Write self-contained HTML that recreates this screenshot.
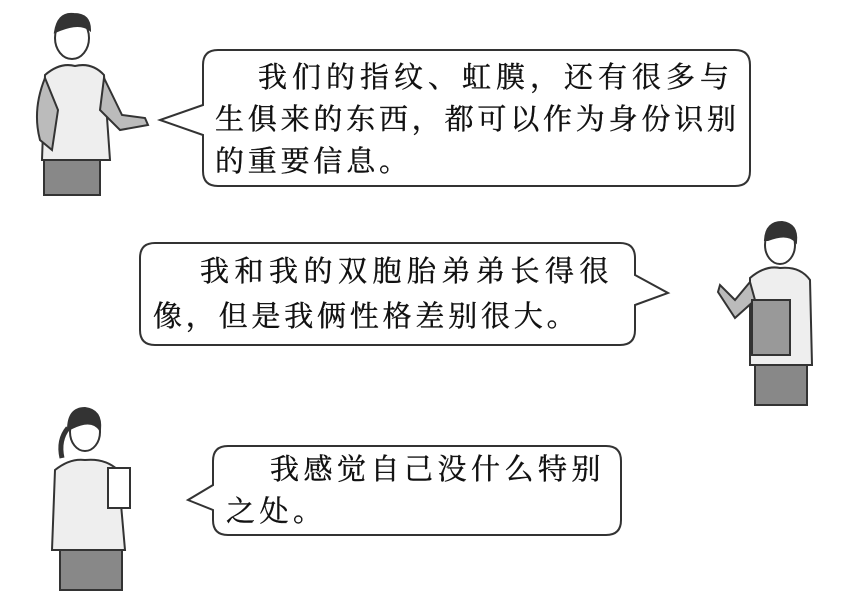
<!DOCTYPE html>
<html><head><meta charset="utf-8">
<style>
body{margin:0;width:842px;height:598px;background:#fff;position:relative;overflow:hidden;font-family:"Liberation Serif","Noto Serif CJK SC",serif;color:#111;}
.t{position:absolute;font-size:29px;white-space:nowrap;line-height:1;-webkit-text-stroke:0.4px #111;}
svg{position:absolute;left:0;top:0;}
</style></head><body>
<svg width="842" height="598" viewBox="0 0 842 598">
<g fill="#fff" stroke="#333" stroke-width="2">
<path d="M218,50 H735 Q750,50 750,65 V171 Q750,186 735,186 H218 Q203,186 203,171 V135 L160,120 L203,105 V65 Q203,50 218,50 Z"/>
<path d="M155,243 H620 Q635,243 635,258 V275 L668,293 L635,305 V330 Q635,345 620,345 H155 Q140,345 140,330 V258 Q140,243 155,243 Z"/>
<path d="M228,446 H606 Q621,446 621,461 V520 Q621,535 606,535 H228 Q213,535 213,520 V510 L188,500 L213,485 V461 Q213,446 228,446 Z"/>
</g>
<g stroke="#333" stroke-width="2" fill="#ddd">
<ellipse cx="72" cy="38" rx="17" ry="21" fill="#fff"/>
<path d="M55,32 Q58,12 74,14 Q90,14 90,30 Q80,22 60,30 Z" fill="#333"/>
<path d="M45,75 Q60,62 75,66 Q92,62 104,75 L110,160 L42,160 Z" fill="#eee"/>
<path d="M45,78 Q32,110 40,140 L52,150 L58,110 Z" fill="#bbb"/>
<path d="M104,78 L122,115 L145,118 L148,125 L120,130 L100,110 Z" fill="#bbb"/>
<rect x="44" y="160" width="56" height="35" fill="#888"/>
</g>
<g stroke="#333" stroke-width="2" fill="#ddd">
<ellipse cx="780" cy="245" rx="15" ry="19" fill="#fff"/>
<path d="M765,240 Q766,222 782,222 Q798,224 796,242 Q788,232 768,240 Z" fill="#333"/>
<path d="M750,278 Q765,265 780,268 Q800,266 810,280 L812,365 L750,365 Z" fill="#eee"/>
<path d="M750,282 L735,300 L720,285 L718,292 L735,318 L755,300 Z" fill="#bbb"/>
<rect x="752" y="300" width="38" height="55" fill="#999"/>
<rect x="755" y="365" width="52" height="40" fill="#888"/>
</g>
<g stroke="#333" stroke-width="2" fill="#ddd">
<ellipse cx="85" cy="432" rx="15" ry="19" fill="#fff"/>
<path d="M68,430 Q68,408 85,408 Q102,410 100,430 Q92,418 72,428 Z" fill="#333"/>
<path d="M68,428 Q58,440 62,458" fill="none" stroke-width="5"/>
<path d="M55,470 Q70,458 85,460 Q105,458 118,470 L125,550 L52,550 Z" fill="#eee"/>
<rect x="108" y="468" width="22" height="40" fill="#fff"/>
<rect x="60" y="550" width="62" height="40" fill="#888"/>
</g>
</svg>
<div class="t" style="left:258px;top:64px;letter-spacing:5px;">我们的指纹、虹膜，还有很多与</div>
<div class="t" style="left:215px;top:106px;letter-spacing:3.8px;">生俱来的东西，都可以作为身份识别</div>
<div class="t" style="left:215px;top:148px;letter-spacing:3.8px;">的重要信息。</div>
<div class="t" style="left:200px;top:258px;letter-spacing:5.5px;">我和我的双胞胎弟弟长得很</div>
<div class="t" style="left:153px;top:303px;letter-spacing:3.8px;">像，但是我俩性格差别很大。</div>
<div class="t" style="left:270px;top:456px;letter-spacing:4.5px;">我感觉自己没什么特别</div>
<div class="t" style="left:226px;top:498px;letter-spacing:4.5px;">之处。</div>
</body></html>
